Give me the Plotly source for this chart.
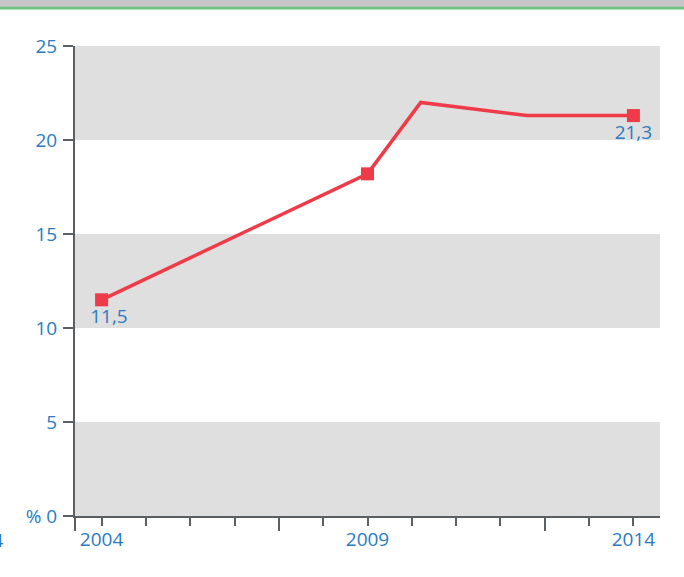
import plotly.graph_objects as go

years = [2004, 2009, 2010, 2012, 2014]
values = [11.5, 18.2, 22.0, 21.3, 21.3]
marker_years = [2004, 2009, 2014]
marker_values = [11.5, 18.2, 21.3]
marker_labels = ["\u00a0\u00a0\u00a011,5", "", "21,3"]
y_ticks = [0, 5, 10, 15, 20, 25]
y_ticktext = ["% 0", "5", "10", "15", "20", "25"]
x_label_years = [2004, 2009, 2014]
bands = [(0, 5), (10, 15), (20, 25)]

blue = "#2a7bbf"
red = "#ef3a48"
axis_col = "#5a5f63"
font = "Open Sans"

# small ticks: 12 equal steps between first and last labeled year
small_ticks = [2004 + k * 10 / 12 for k in range(13)]
long_ticks = [2003.5, 2004 + 10 / 12 * 4, 2004 + 10 / 12 * 10]


def tick_text(t):
    r = round(t)
    if abs(t - r) < 1e-6 and r in x_label_years:
        return str(r)
    return ""


fig = go.Figure()
fig.add_trace(go.Scatter(x=years, y=values, mode="lines",
                         line=dict(color=red, width=3.5), hoverinfo="skip",
                         showlegend=False))
fig.add_trace(go.Scatter(x=marker_years, y=marker_values, mode="markers+text",
                         marker=dict(symbol="square", size=13, color=red),
                         text=marker_labels, textposition="bottom center",
                         textfont=dict(color=blue, size=19, family=font),
                         showlegend=False))

for lo, hi in bands:
    fig.add_shape(type="rect", xref="paper", yref="y", x0=0, x1=1, y0=lo, y1=hi,
                  fillcolor="#dfdfdf", line=dict(width=0), layer="below")

# top banner
fig.add_shape(type="rect", xref="paper", yref="paper", x0=-0.2, x1=1.1,
              y0=1.083, y1=1.3, fillcolor="#c6c6c8", line=dict(width=0))
fig.add_shape(type="rect", xref="paper", yref="paper", x0=-0.2, x1=1.1,
              y0=1.0775, y1=1.0835, fillcolor="#6cc47c", line=dict(width=0))

# clipped label at far left
fig.add_annotation(xref="paper", yref="paper", x=-0.118, y=-0.051,
                   text="2004", showarrow=False, xanchor="right", yanchor="middle",
                   font=dict(color=blue, size=19, family=font))

fig.update_layout(
    width=684, height=577,
    margin=dict(l=75, r=24, t=46, b=61),
    paper_bgcolor="white", plot_bgcolor="white",
    font=dict(family=font, size=19, color=blue),
    xaxis=dict(range=[2003.5, 2014.5], showgrid=False, zeroline=False,
               showline=True, linecolor=axis_col, linewidth=2,
               tickmode="array", tickvals=small_ticks,
               ticktext=[tick_text(t) for t in small_ticks],
               ticks="outside", ticklen=8, tickwidth=2, tickcolor=axis_col,
               ticklabelstandoff=-3,
               tickfont=dict(color=blue, size=19, family=font),
               minor=dict(tickvals=long_ticks, ticklen=13, tickwidth=2,
                          tickcolor=axis_col, ticks="outside", showgrid=False)),
    yaxis=dict(range=[0, 25], showgrid=False, zeroline=False,
               showline=True, linecolor=axis_col, linewidth=2,
               tickmode="array", tickvals=y_ticks, ticktext=y_ticktext,
               ticks="outside", ticklen=10, tickwidth=2, tickcolor=axis_col,
               ticklabelstandoff=2,
               tickfont=dict(color=blue, size=19, family=font)),
)

fig.write_html("out.html", config={"displayModeBar": False},
               post_script="document.body.style.margin='0';")
